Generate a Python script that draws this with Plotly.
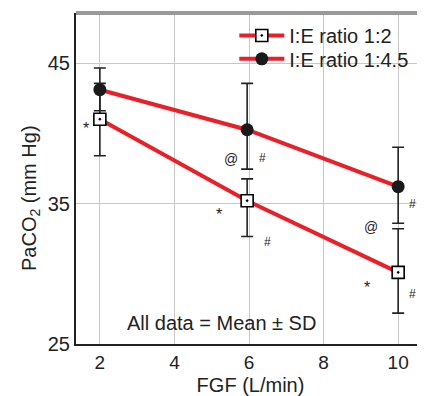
import plotly.graph_objects as go

fgf = [2, 5.95, 10]
ie_12 = [41.0, 35.2, 30.1]
ie_12_up = [2.55, 1.55, 3.1]
ie_12_down = [2.6, 2.55, 2.9]
ie_45 = [43.1, 40.25, 36.2]
ie_45_up = [1.55, 3.3, 2.8]
ie_45_down = [1.5, 2.8, 2.6]

marks_text = ["*", "@", "#", "*", "#", "@", "#", "*", "#"]
marks_x = [1.63, 5.53, 6.37, 5.20, 6.50, 9.28, 10.38, 9.17, 10.38]
marks_y = [40.35, 38.15, 38.25, 34.25, 32.25, 33.3, 34.95, 29.0, 28.55]

RED = "#e8202a"
FONT = "Liberation Sans, Arial, sans-serif"

fig = go.Figure()
fig.add_trace(go.Scatter(
    x=fgf, y=ie_12, mode="lines+markers", name="I:E ratio 1:2",
    legend="legend",
    line=dict(color=RED, width=4),
    marker=dict(symbol="square-dot", size=12, color="white",
                line=dict(color="black", width=1.6)),
    error_y=dict(type="data", symmetric=False, array=ie_12_up,
                 arrayminus=ie_12_down, color="#222", thickness=1.6, width=6),
))
fig.add_trace(go.Scatter(
    x=fgf, y=ie_45, mode="lines+markers", name="I:E ratio 1:4.5",
    legend="legend2",
    line=dict(color=RED, width=4),
    marker=dict(symbol="circle", size=13, color="#1a1a1a"),
    error_y=dict(type="data", symmetric=False, array=ie_45_up,
                 arrayminus=ie_45_down, color="#222", thickness=1.6, width=6),
))

for t, x, y in zip(marks_text, marks_x, marks_y):
    fig.add_annotation(x=x, y=y, text=t, showarrow=False,
                       font=dict(size=16 if t == "*" else (14 if t == "@" else 12),
                                 color="#222", family=FONT))

fig.add_annotation(x=5.25, y=26.5, text="All data = Mean ± SD", showarrow=False,
                   font=dict(size=20, color="#222", family=FONT))

# y-axis title (positioned like the reference)
fig.add_annotation(xref="paper", yref="paper", x=0, y=0.441, xshift=-46,
                   xanchor="center", yanchor="middle", textangle=-90,
                   text="PaCO<sub>2</sub> (mm Hg)", showarrow=False,
                   font=dict(size=20, color="#222", family=FONT))

leg_common = dict(xanchor="left", yanchor="top", bgcolor="rgba(255,255,255,0)",
                  font=dict(size=20), itemwidth=45)

fig.update_layout(
    width=417, height=388,
    margin=dict(l=68, r=0, t=5, b=52, autoexpand=False),
    paper_bgcolor="white", plot_bgcolor="white",
    font=dict(family=FONT, color="#222", size=20),
    showlegend=True,
    legend=dict(x=0.4536, y=0.991, **leg_common),
    legend2=dict(x=0.4536, y=0.9206, **leg_common),
    xaxis=dict(range=[1.36, 10.72], tickvals=[2, 4, 6, 8, 10],
               showgrid=True, gridcolor="#c8c8c8", gridwidth=1,
               showline=True, linecolor="#222", linewidth=2,
               zeroline=False, ticks="", tickfont=dict(size=19),
               title=dict(text="FGF (L/min)", font=dict(size=20), standoff=7)),
    yaxis=dict(range=[25, 48.56], tickvals=[25, 35, 45],
               showgrid=True, gridcolor="#c8c8c8", gridwidth=1,
               showline=True, linecolor="#222", linewidth=2,
               zeroline=False, ticks="", tickfont=dict(size=20)),
    shapes=[dict(type="line", xref="paper", yref="paper", x0=0, x1=1, y0=1, y1=1,
                 line=dict(color="#999999", width=4))],
)

fig.write_html("out.html")
